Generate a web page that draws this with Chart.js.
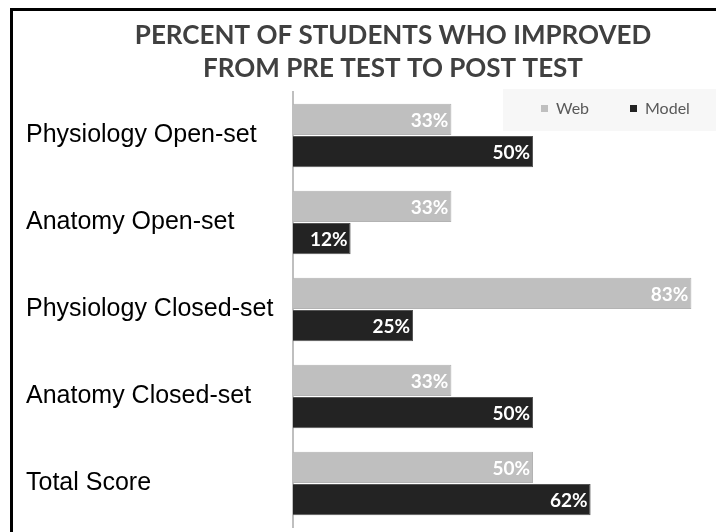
<!DOCTYPE html>
<html>
<head>
<meta charset="utf-8">
<script src="https://cdn.jsdelivr.net/npm/chart.js@4"></script>
<style>
html,body{margin:0;padding:0;background:#fff;}
#wrap{width:716px;height:532px;position:relative;}
</style>
</head>
<body>
<div id="wrap"><canvas id="c" width="716" height="532"></canvas></div>
<script>
const categories = ["Physiology Open-set", "Anatomy Open-set", "Physiology Closed-set", "Anatomy Closed-set", "Total Score"];
const webValues = [33, 33, 83, 33, 50];
const modelValues = [50, 12, 25, 50, 62];
const titleLines = ["PERCENT OF STUDENTS WHO IMPROVED", "FROM PRE TEST TO POST TEST"];
const seriesNames = ["Web", "Model"];

const frame = {
  id: 'frame',
  afterDraw(chart) {
    const ctx = chart.ctx;
    ctx.save();
    ctx.strokeStyle = '#000';
    ctx.lineWidth = 3;
    ctx.beginPath();
    ctx.moveTo(11.5, 532);
    ctx.lineTo(11.5, 9.5);
    ctx.lineTo(716, 9.5);
    ctx.stroke();
    ctx.restore();
  }
};

const titleText = {
  id: 'titleText',
  afterDraw(chart) {
    const ctx = chart.ctx;
    ctx.save();
    ctx.fillStyle = '#404040';
    ctx.font = 'bold 26px Lato';
    ctx.textAlign = 'center';
    ctx.textBaseline = 'middle';
    titleLines.forEach((t, i) => ctx.fillText(t, 393, 36 + i * 33));
    ctx.restore();
  }
};

const valueLabels = {
  id: 'valueLabels',
  afterDatasetsDraw(chart) {
    const ctx = chart.ctx;
    ctx.save();
    ctx.fillStyle = '#fff';
    ctx.textAlign = 'right';
    ctx.textBaseline = 'middle';
    ctx.font = 'bold 19px Lato';
    chart.data.datasets.forEach((ds, i) => {
      chart.getDatasetMeta(i).data.forEach((bar, j) => {
        ctx.fillText(ds.data[j] + '%', bar.x - 3, bar.y + 1);
      });
    });
    ctx.restore();
  }
};

const legendBox = {
  id: 'legendBox',
  afterDraw(chart) {
    const ctx = chart.ctx;
    ctx.save();
    ctx.fillStyle = '#f7f7f7';
    ctx.fillRect(503, 89, 213, 42);
    ctx.font = '16px Lato';
    ctx.textBaseline = 'middle';
    const pos = [541, 630];
    chart.data.datasets.forEach((ds, i) => {
      ctx.fillStyle = ds.backgroundColor;
      ctx.fillRect(pos[i], 105, 7, 7);
      ctx.fillStyle = '#595959';
      ctx.fillText(ds.label, pos[i] + 15, 109);
    });
    ctx.restore();
  }
};

new Chart(document.getElementById('c'), {
  type: 'bar',
  data: {
    labels: categories,
    datasets: [
      { label: seriesNames[0], data: webValues, backgroundColor: '#bfbfbf', borderColor: '#b3b3b3', borderWidth: 1, categoryPercentage: 0.74, barPercentage: 0.97 },
      { label: seriesNames[1], data: modelValues, backgroundColor: '#232323', borderColor: '#555555', borderWidth: 1, categoryPercentage: 0.74, barPercentage: 0.97 }
    ]
  },
  options: {
    indexAxis: 'y',
    responsive: false,
    animation: false,
    layout: { padding: { left: 26, right: 15, top: 92, bottom: 5 } },
    plugins: {
      legend: { display: false },
      tooltip: { enabled: false },
      title: { display: false }
    },
    scales: {
      x: { display: false, min: 0, max: 85, afterFit(scale) { scale.height = 0; scale.paddingLeft = 0; scale.paddingRight = 0; } },
      y: {
        afterFit(scale) { scale.width = 267; scale.paddingTop = 0; scale.paddingBottom = 0; },
        grid: { display: false, drawTicks: false },
        border: { display: true, color: '#bfbfbf', width: 2 },
        ticks: { color: '#000', font: { family: 'Liberation Sans', size: 25 }, crossAlign: 'far', padding: 16 }
      }
    }
  },
  plugins: [frame, titleText, valueLabels, legendBox]
});
</script>
</body>
</html>
